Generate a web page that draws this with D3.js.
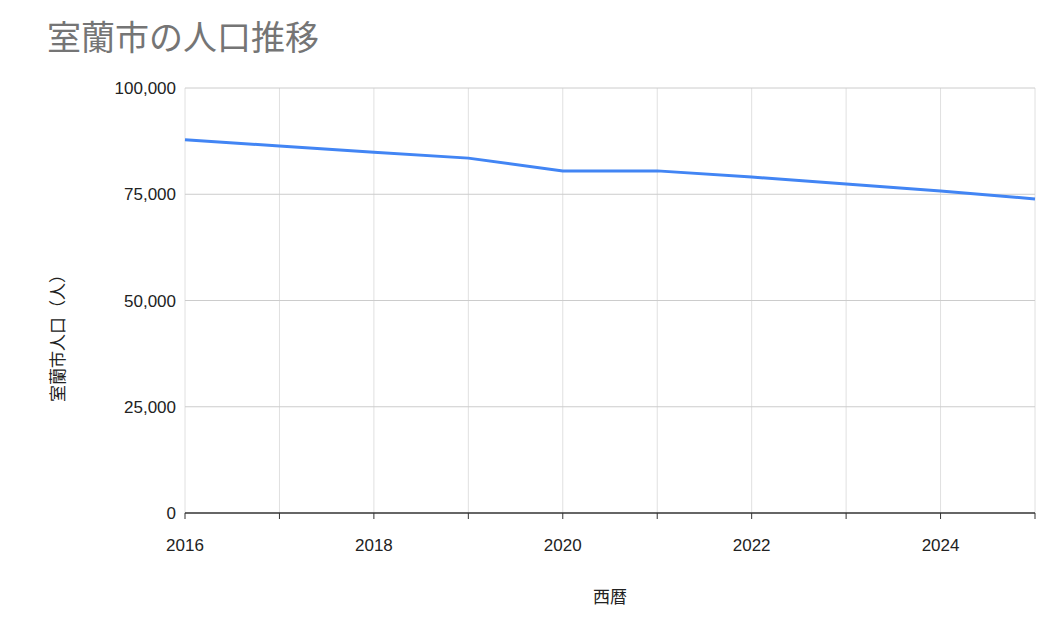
<!DOCTYPE html>
<html><head><meta charset="utf-8">
<script src="https://cdn.jsdelivr.net/npm/d3@7"></script>
<style>body{margin:0;background:#fff;font-family:"Liberation Sans","Noto Sans CJK JP",sans-serif;}</style>
</head><body><div id="chart"></div>
<script>
// data
const years = [2016, 2017, 2018, 2019, 2020, 2021, 2022, 2023, 2024, 2025];
const population = [87800, 86350, 84900, 83500, 80500, 80500, 79050, 77400, 75750, 73900];
const yTicks = [0, 25000, 50000, 75000, 100000];
const xLabelYears = [2016, 2018, 2020, 2022, 2024];

const W = 1056, H = 627;
const margin = { top: 88, right: 21, bottom: 114, left: 185 };
const width = W - margin.left - margin.right;
const height = H - margin.top - margin.bottom;

const svg = d3.select("#chart").append("svg").attr("width", W).attr("height", H);
const g = svg.append("g").attr("transform", `translate(${margin.left},${margin.top})`);

const x = d3.scaleLinear().domain([2016, 2025]).range([0, width]);
const y = d3.scaleLinear().domain([0, 100000]).range([height, 0]);

// vertical grid
g.selectAll(".vg").data(years).enter().append("line")
    .attr("x1", d => x(d)).attr("x2", d => x(d))
    .attr("y1", 0).attr("y2", height)
    .style("stroke", "#e0e0e0");
// horizontal grid
g.selectAll(".hg").data(yTicks.slice(1)).enter().append("line")
    .attr("x1", 0).attr("x2", width)
    .attr("y1", d => y(d)).attr("y2", d => y(d))
    .style("stroke", "#cccccc");

// y labels
g.selectAll(".yl").data(yTicks).enter().append("text")
    .attr("x", -9).attr("y", d => y(d) + 6)
    .attr("text-anchor", "end").style("font-size", "17px").style("fill", "#222")
    .text(d => d3.format(",")(d));

// baseline + ticks
g.append("line").attr("x1", 0).attr("x2", width).attr("y1", height).attr("y2", height)
    .style("stroke", "#333").style("stroke-width", 1.5);
g.selectAll(".xt").data(years).enter().append("line")
    .attr("x1", d => x(d)).attr("x2", d => x(d))
    .attr("y1", height).attr("y2", height + 6)
    .style("stroke", "#333");
g.selectAll(".xl").data(xLabelYears).enter().append("text")
    .attr("x", d => x(d)).attr("y", height + 38)
    .attr("text-anchor", "middle").style("font-size", "17px").style("fill", "#222")
    .text(d => d);

// line
const line = d3.line().x((d, i) => x(years[i])).y(d => y(d));
g.append("path").datum(population).attr("d", line)
    .style("fill", "none").style("stroke", "#4285f4").style("stroke-width", 3);

// title & axis labels
svg.append("text").attr("x", 47).attr("y", 50)
    .style("font-size", "34px").style("fill", "#757575").text("室蘭市の人口推移");
svg.append("text").attr("x", margin.left + width / 2).attr("y", 603)
    .attr("text-anchor", "middle").style("font-size", "17px").style("fill", "#222").text("西暦");
svg.append("text").attr("transform", `translate(64,334) rotate(-90)`)
    .attr("text-anchor", "middle").style("font-size", "17px").style("fill", "#222").text("室蘭市人口（人）");
</script></body></html>
